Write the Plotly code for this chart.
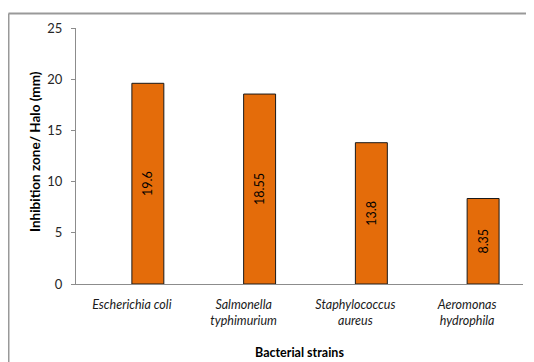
import plotly.graph_objects as go

categories = ["<i>Escherichia coli</i>", "<i>Salmonella<br>typhimurium</i>",
              "<i>Staphylococcus<br>aureus</i>", "<i>Aeromonas<br>hydrophila</i>"]
values = [19.6, 18.55, 13.8, 8.35]
value_labels = ["19.6", "18.55", "13.8", "8.35"]
y_ticks = [0, 5, 10, 15, 20, 25]

# page body has an 8px margin; work in figure pixels = reference pixels - 8
OFF = 8
W, H = 534 - OFF, 362 - OFF
L, R, T, B = 76 - OFF, 523 - OFF, 28 - OFF, 284 - OFF  # plot area in figure pixels
pw, ph = R - L, B - T

xs = list(range(len(categories)))
FONT = "Lato, Open Sans, sans-serif"

fig = go.Figure()
fig.add_trace(go.Bar(
    x=xs, y=values, text=value_labels,
    textposition="inside", insidetextanchor="middle", textangle=-90,
    textfont=dict(family=FONT, size=12.5, color="#000000"),
    marker=dict(color="#E46C0A", line=dict(color="#1a1a1a", width=1)),
    width=0.286, offset=0, cliponaxis=False,
))

def px_x(p):
    return (p - OFF - L) / pw

def px_y(p):
    return (B - (p - OFF)) / ph

bx0, bx1 = px_x(8.5), px_x(534)
by0, by1 = px_y(362), px_y(13.5)

fig.update_layout(
    width=W, height=H,
    margin=dict(l=L, r=W - R, t=T, b=H - B, pad=0, autoexpand=False),
    paper_bgcolor="white", plot_bgcolor="white",
    showlegend=False,
    font=dict(family=FONT, size=12, color="#262626"),
    xaxis=dict(
        tickmode="array", tickvals=xs, ticktext=categories,
        range=[-0.5, 3.5],
        showline=True, linecolor="#8c8c8c", linewidth=1,
        ticks="", showgrid=False, zeroline=False,
        tickfont=dict(size=12.5, color="#1a1a1a"),
        ticklabelstandoff=9,
        automargin=False,
        fixedrange=True,
    ),
    yaxis=dict(
        range=[0, 25], tickvals=y_ticks,
        showline=True, linecolor="#8c8c8c", linewidth=1,
        ticks="outside", ticklen=4, tickcolor="#8c8c8c",
        showgrid=False, zeroline=False,
        tickfont=dict(size=13, color="#262626"),
        ticklabelstandoff=6,
        automargin=False,
    ),
    annotations=[
        dict(text="<b>Bacterial strains</b>", xref="paper", yref="paper",
             x=0.5, y=px_y(352), xanchor="center", yanchor="middle",
             showarrow=False, font=dict(family=FONT, size=12.5, color="#000000")),
        dict(text="<b>Inhibition zone/ Halo (mm)</b>", xref="paper", yref="paper",
             x=px_x(35), y=px_y(152), xanchor="center", yanchor="middle", textangle=-90,
             showarrow=False, font=dict(family=FONT, size=13.5, color="#000000")),
    ],
    shapes=[
        dict(type="line", xref="paper", yref="paper",
             x0=bx0, x1=bx0, y0=by0, y1=by1, line=dict(color="#999999", width=2)),
        dict(type="line", xref="paper", yref="paper",
             x0=bx0, x1=bx1, y0=by1, y1=by1, line=dict(color="#999999", width=2)),
    ],
)

fig.write_html("out.html")
